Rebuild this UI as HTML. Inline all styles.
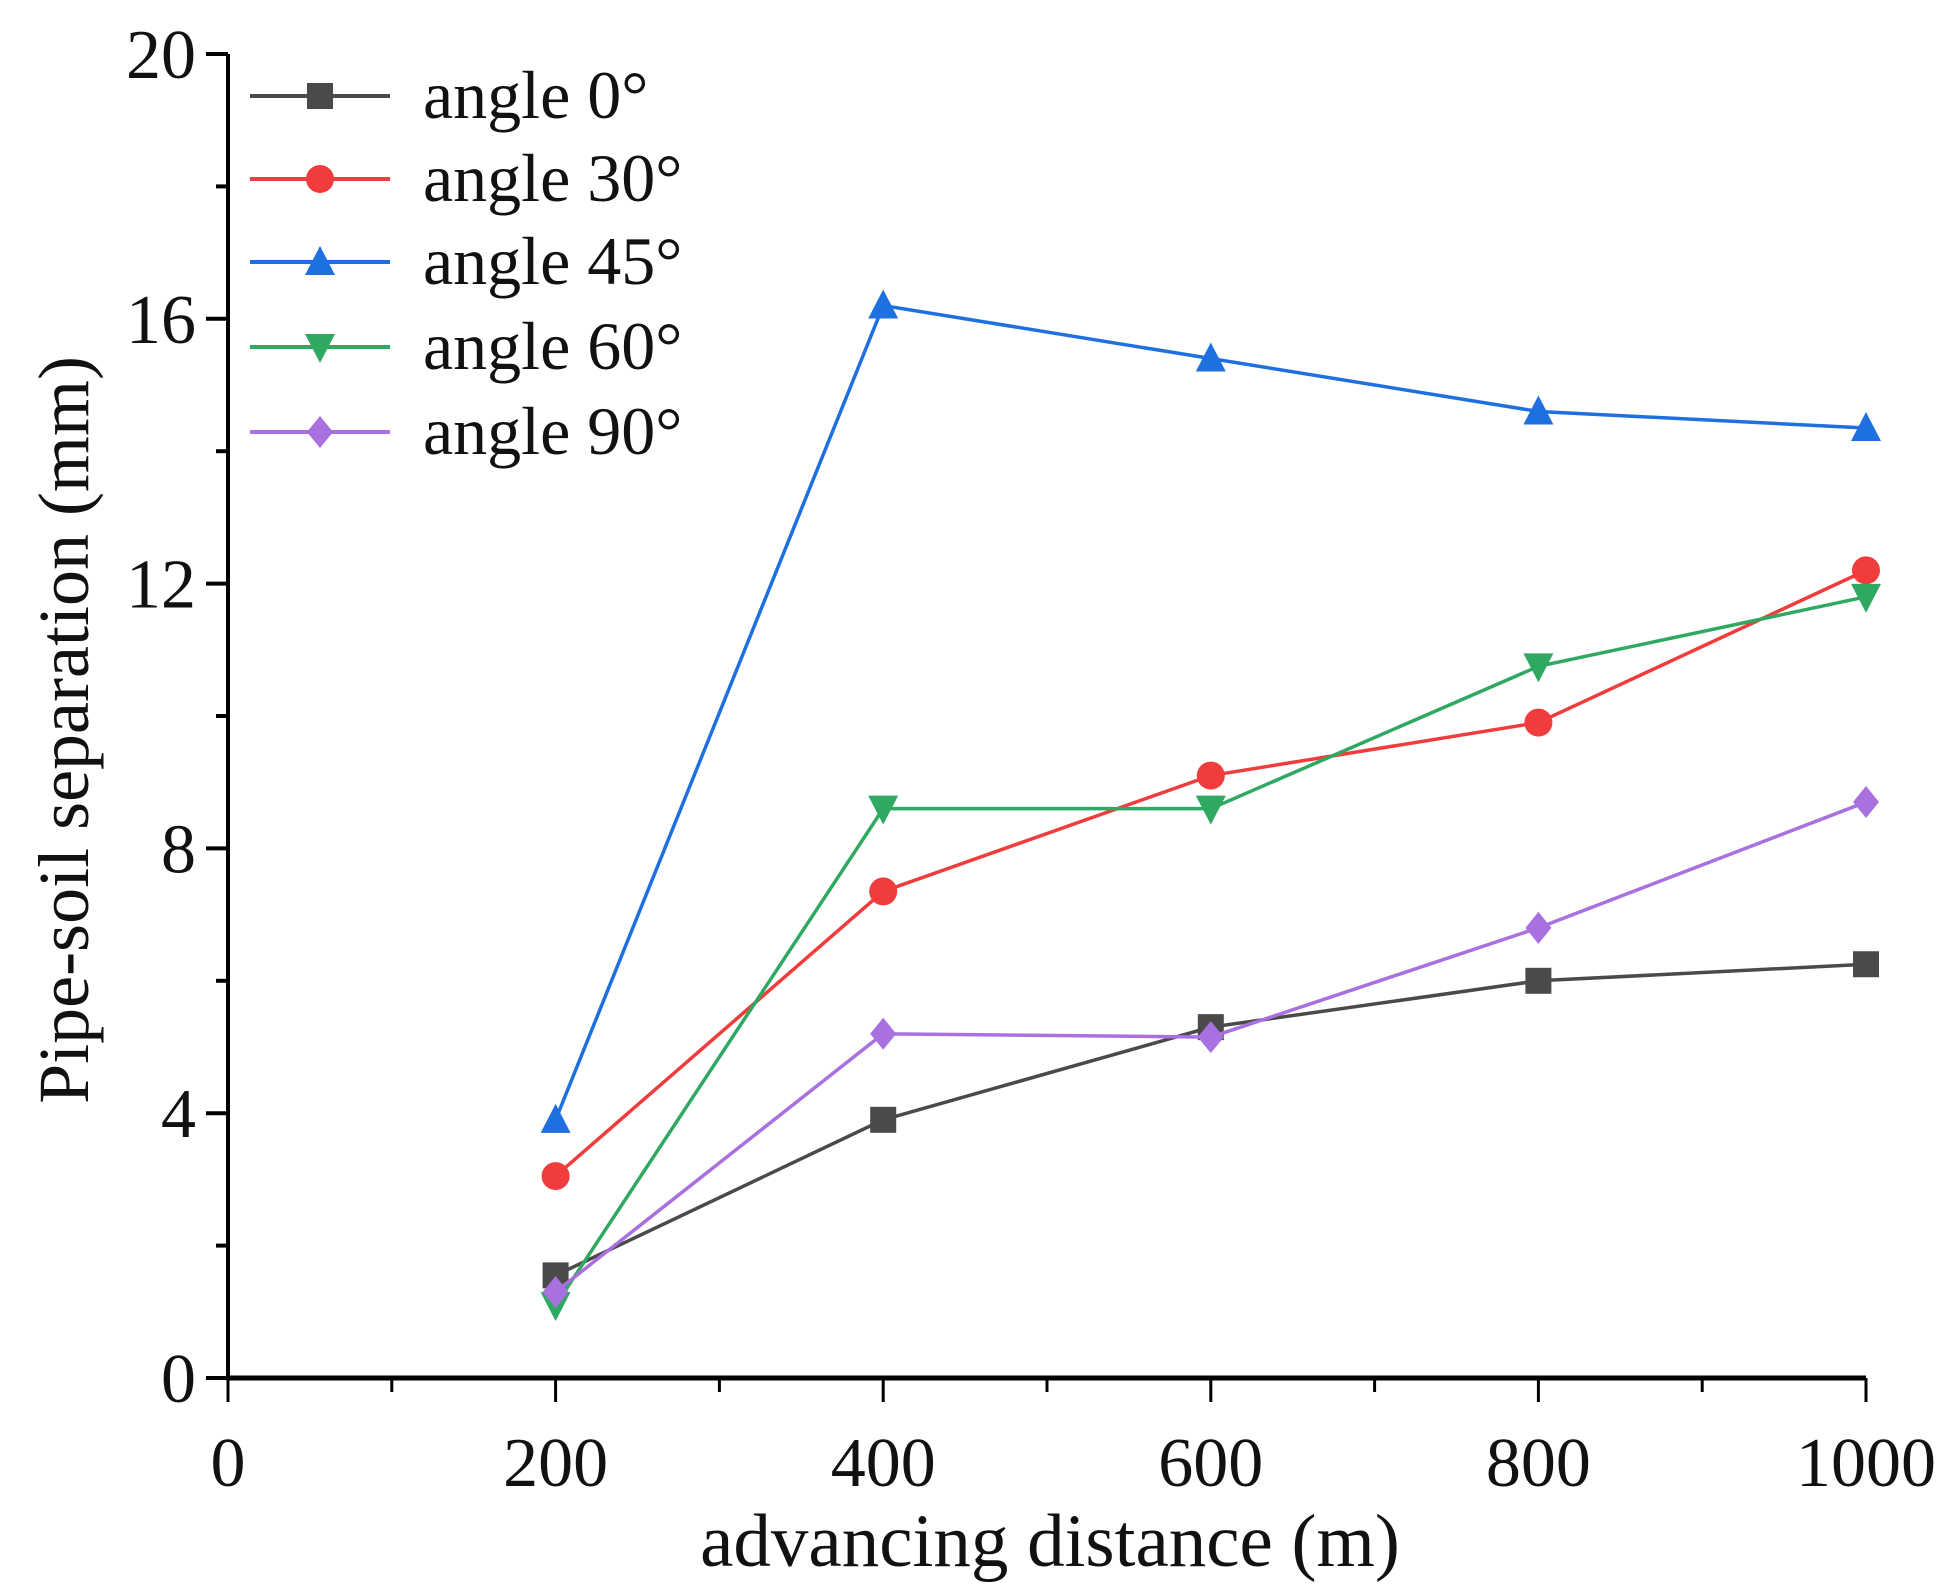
<!DOCTYPE html>
<html><head><meta charset="utf-8"><style>
html,body{margin:0;padding:0;background:#fff;}
svg{display:block;font-family:"Liberation Serif",serif;}
</style></head><body>
<svg id="chart" width="1950" height="1586" viewBox="0 0 1950 1586" xmlns="http://www.w3.org/2000/svg"></svg>
<script>
const categories = [200, 400, 600, 800, 1000];
const angle0 = [1.55, 3.9, 5.3, 6.0, 6.25];
const angle30 = [3.05, 7.35, 9.1, 9.9, 12.2];
const angle45 = [3.9, 16.2, 15.4, 14.6, 14.35];
const angle60 = [1.1, 8.6, 8.6, 10.75, 11.8];
const angle90 = [1.3, 5.2, 5.15, 6.8, 8.7];
const seriesNames = ["angle 0°", "angle 30°", "angle 45°", "angle 60°", "angle 90°"];
const xTicks = [0, 200, 400, 600, 800, 1000];
const yTicks = [0, 4, 8, 12, 16, 20];

const svg = document.getElementById('chart');
const NS = 'http://www.w3.org/2000/svg';
const X0 = 228, X1 = 1866, Y0 = 1378, Y1 = 54;
const xs = v => X0 + (v / 1000) * (X1 - X0);
const ys = v => Y0 - (v / 20) * (Y0 - Y1);
function mk(tag, attrs, parent) {
  const e = document.createElementNS(NS, tag);
  for (const k in attrs) e.setAttribute(k, attrs[k]);
  (parent || svg).appendChild(e);
  return e;
}
const series = [
  {vals: angle0, color: '#4a4a4a', marker: 'square'},
  {vals: angle30, color: '#f03c3c', marker: 'circle'},
  {vals: angle45, color: '#1e6fe0', marker: 'up'},
  {vals: angle60, color: '#2fa862', marker: 'down'},
  {vals: angle90, color: '#a970e0', marker: 'diamond'}
];
function marker(g, type, x, y, color) {
  const s = 13;
  let e;
  if (type === 'square') e = mk('rect', {x: x - s, y: y - s, width: 2 * s, height: 2 * s, fill: color}, g);
  else if (type === 'circle') e = mk('circle', {cx: x, cy: y, r: s + 1, fill: color}, g);
  else if (type === 'up') e = mk('polygon', {points: `${x},${y - s - 3} ${x + s + 2},${y + s} ${x - s - 2},${y + s}`, fill: color}, g);
  else if (type === 'down') e = mk('polygon', {points: `${x},${y + s + 3} ${x + s + 2},${y - s} ${x - s - 2},${y - s}`, fill: color}, g);
  else e = mk('polygon', {points: `${x},${y - s - 3} ${x + s},${y} ${x},${y + s + 3} ${x - s},${y}`, fill: color}, g);
  return e;
}
// axes
const axes = mk('g', {});


const ya = mk('line', {x1: X0, y1: Y1, x2: X0, y2: Y0 + 2, stroke: '#000', 'stroke-width': 4}, axes);


const xa = mk('line', {x1: X0 - 2, y1: Y0, x2: X1, y2: Y0, stroke: '#000', 'stroke-width': 5}, axes);


for (let v = 0; v <= 20; v += 2) {
  const major = v % 4 === 0;
  mk('line', {x1: X0 - (major ? 22 : 12), y1: ys(v), x2: X0, y2: ys(v), stroke: '#000', 'stroke-width': 4}, axes);
}
for (let v = 0; v <= 1000; v += 100) {
  const major = v % 200 === 0;
  mk('line', {x1: xs(v), y1: Y0, x2: xs(v), y2: Y0 + (major ? 24 : 14), stroke: '#000', 'stroke-width': 3}, axes);
}
yTicks.forEach(v => {
  const t = mk('text', {x: X0 - 32, y: ys(v) + 24, 'font-size': 70, 'text-anchor': 'end', fill: '#111'}, axes);
  
  
  t.textContent = v;
});
xTicks.forEach(v => {
  const t = mk('text', {x: xs(v), y: Y0 + 108, 'font-size': 70, 'text-anchor': 'middle', fill: '#111'}, axes);
  
  
  t.textContent = v;
});
const xt = mk('text', {x: 1050, y: 1566, 'font-size': 75, 'text-anchor': 'middle', fill: '#111'});


xt.textContent = 'advancing distance (m)';
const yt = mk('text', {x: 0, y: 0, 'font-size': 72, 'text-anchor': 'middle', fill: '#111', transform: 'translate(88,730) rotate(-90)'});


yt.textContent = 'Pipe-soil separation (mm)';
// series
series.forEach((s, i) => {
  const g = mk('g', {});
  
  
  const pts = categories.map((c, j) => xs(c) + ',' + ys(s.vals[j])).join(' ');
  const pl = mk('polyline', {points: pts, fill: 'none', stroke: s.color, 'stroke-width': 3.5}, g);
  
  
  categories.forEach((c, j) => {
    const m = marker(g, s.marker, xs(c), ys(s.vals[j]), s.color);
    
    
  });
});
// legend
const lg = mk('g', {});


const rowY = [96, 179, 262, 347, 432];
series.forEach((s, i) => {
  const e = mk('g', {}, lg);
  
  
  mk('line', {x1: 250, y1: rowY[i], x2: 390, y2: rowY[i], stroke: s.color, 'stroke-width': 4}, e);
  marker(e, s.marker, 320, rowY[i], s.color);
  const t = mk('text', {x: 423, y: rowY[i] + 22, 'font-size': 68, fill: '#111'}, e);
  t.textContent = seriesNames[i];
});
</script>
</body></html>
